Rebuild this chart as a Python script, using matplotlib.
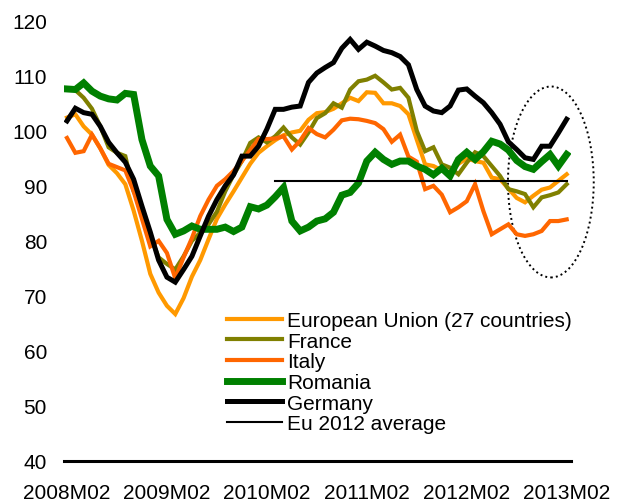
import matplotlib
matplotlib.use("Agg")
import matplotlib.pyplot as plt
from matplotlib.patches import Ellipse

plt.rcParams['font.family'] = ['Liberation Sans', 'DejaVu Sans']

# monthly categories 2008M02 .. 2013M02
months = []
y, m = 2008, 2
for _ in range(61):
    months.append(f"{y}M{m:02d}")
    m += 1
    if m > 12:
        m = 1
        y += 1

tick_labels = ["2008M02", "2009M02", "2010M02", "2011M02", "2012M02", "2013M02"]

eu = [102.4, 103.0, 100.8, 99.3, 96.8, 93.8, 92.3, 90.3, 85.5, 80.0,
      74.0, 70.6, 68.2, 66.7, 69.6, 73.5, 76.5, 80.3, 84.0, 86.6,
      89.0, 91.5, 94.0, 96.0, 97.2, 98.3, 99.2, 99.7, 100.0, 102.0,
      103.2, 103.4, 104.0, 105.0, 106.0, 105.4, 107.0, 106.9, 105.0, 105.0,
      104.5, 103.0, 98.4, 93.9, 93.6, 92.8, 92.5, 94.0, 95.0, 94.5,
      94.2, 91.5, 91.2, 89.5, 87.8, 87.0, 88.2, 89.3, 89.7, 90.9, 92.1]

france = [107.5, 107.4, 106.0, 104.0, 100.8, 97.0, 96.0, 95.4, 89.0, 86.0,
          80.9, 77.0, 75.8, 74.8, 77.2, 80.0, 81.5, 83.0, 85.3, 89.0,
          92.0, 94.5, 97.8, 98.8, 97.9, 99.0, 100.6, 98.8, 97.5, 99.7,
          102.3, 103.2, 105.0, 104.2, 107.5, 109.0, 109.3, 110.0, 108.8, 107.5,
          107.8, 106.0, 100.0, 96.3, 97.0, 93.9, 93.3, 92.1, 94.2, 96.1,
          95.4, 93.6, 91.8, 89.4, 89.0, 88.5, 86.1, 87.9, 88.3, 88.8, 90.3]

italy = [98.7, 96.0, 96.3, 99.3, 96.8, 94.0, 93.4, 92.8, 89.0, 84.0,
         79.0, 80.0, 77.8, 73.2, 77.0, 80.5, 84.5, 87.5, 90.0, 91.2,
         92.7, 94.5, 96.5, 98.5, 98.5, 98.6, 99.0, 96.6, 98.2, 100.5,
         99.4, 98.8, 100.2, 101.9, 102.2, 102.1, 101.8, 101.4, 100.3, 98.0,
         99.3, 95.3, 94.4, 89.4, 90.0, 88.4, 85.2, 86.1, 87.2, 90.3,
         85.4, 81.2, 82.1, 83.0, 81.2, 80.9, 81.2, 81.8, 83.6, 83.6, 83.9]

romania = [107.6, 107.5, 108.7, 107.2, 106.3, 105.8, 105.6, 106.8, 106.6, 98.4,
           93.6, 91.8, 83.9, 81.2, 81.8, 82.7, 82.1, 82.1, 82.1, 82.5,
           81.7, 82.5, 86.2, 85.8, 86.5, 88.0, 89.7, 83.6, 81.8, 82.5,
           83.6, 84.0, 85.2, 88.3, 88.8, 90.5, 94.5, 96.1, 94.8, 93.9,
           94.5, 94.5, 93.6, 93.0, 92.0, 93.2, 91.8, 94.8, 96.1, 94.8,
           96.2, 98.1, 97.6, 96.5, 94.6, 93.5, 93.0, 94.4, 95.7, 93.6, 95.7]

germany = [101.8, 104.1, 103.3, 103.0, 100.8, 97.9, 96.0, 94.3, 91.2, 86.3,
           81.6, 76.5, 73.4, 72.5, 74.8, 77.2, 80.9, 84.5, 87.5, 90.0,
           92.0, 95.4, 95.4, 97.2, 100.3, 103.9, 103.9, 104.3, 104.5, 108.8,
           110.5, 111.5, 112.4, 115.0, 116.6, 114.8, 116.1, 115.4, 114.6, 114.2,
           113.5, 112.0, 107.5, 104.5, 103.6, 103.3, 104.5, 107.4, 107.6, 106.3,
           105.1, 103.3, 101.2, 98.0, 96.6, 95.1, 94.8, 97.2, 97.2, 99.6, 102.1]

avg_start = "2010M03"
eu_2012_average = 90.9

fig = plt.figure(figsize=(6.2, 5.02), dpi=100)
ax = fig.add_axes([0.1027, 0.0797, 0.818, 0.877])

x = list(range(len(months)))
ax.plot(x, eu, color='#FF9900', lw=3.0, label='European Union (27 countries)', solid_joinstyle='miter')
ax.plot(x, france, color='#808000', lw=3.0, label='France', solid_joinstyle='miter')
ax.plot(x, italy, color='#FF6600', lw=3.0, label='Italy', solid_joinstyle='miter')
ax.plot(x, romania, color='#008000', lw=5.0, label='Romania', solid_joinstyle='miter')
ax.plot(x, germany, color='black', lw=3.6, label='Germany', solid_joinstyle='miter')

s = months.index(avg_start)
ax.plot(x[s:], [eu_2012_average] * (len(x) - s), color='black', lw=1.5, label='Eu 2012 average')

ell = Ellipse((58.1, 90.7), 10.3, 34.7, fill=False, edgecolor='black',
              linestyle=(0, (1, 1.6)), lw=1.4, clip_on=False)
ax.add_patch(ell)

ax.set_xlim(-0.4, 60.5)
ax.set_ylim(40, 120)
ax.set_yticks(range(40, 121, 10))
ax.set_xticks([months.index(t) for t in tick_labels])
ax.set_xticklabels(tick_labels)
for sp in ['top', 'right', 'left']:
    ax.spines[sp].set_visible(False)
ax.spines['bottom'].set_linewidth(2.2)
ax.tick_params(axis='both', length=0, labelsize=15)
ax.tick_params(axis='x', pad=16)
ax.tick_params(axis='y', pad=12)

leg = ax.legend(loc='upper left', bbox_to_anchor=(227 / 620, 1 - 312 / 502),
                bbox_transform=fig.transFigure, frameon=False, fontsize=15,
                handlelength=2.65, handletextpad=0.25, labelspacing=0.08,
                borderpad=0, borderaxespad=0)

fig.savefig('out.png', dpi=100)
